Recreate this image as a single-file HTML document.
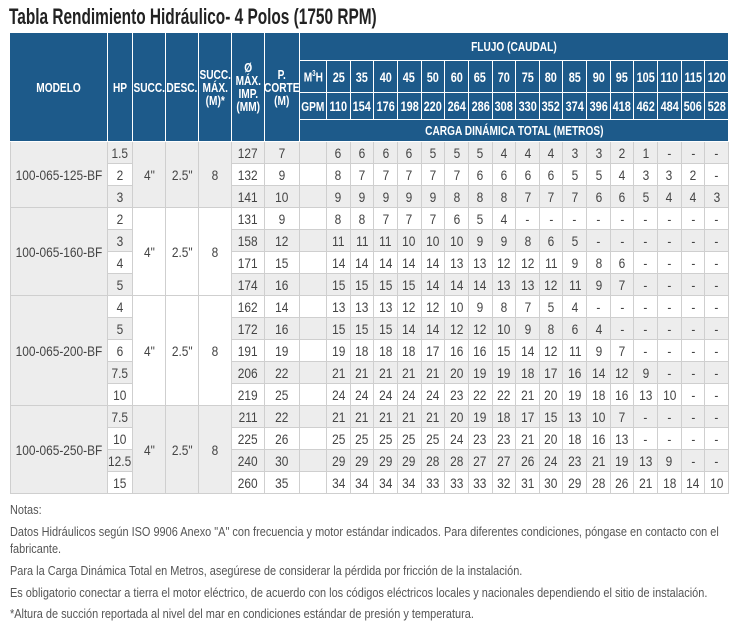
<!DOCTYPE html>
<html><head><meta charset="utf-8">
<style>
body{margin:0;background:#fff;width:738px;height:630px;overflow:hidden;position:relative;font-family:"Liberation Sans",sans-serif}
.c{position:absolute;box-sizing:border-box;display:flex;align-items:center;justify-content:center;text-align:center;white-space:nowrap;overflow:visible}
.h{background:#1d5a8a;color:#fff;font-weight:bold;border-right:1px solid #fff;border-bottom:1px solid #fff}
.h span{display:inline-block;transform:scaleX(0.78)}
.d span{display:inline-block;transform:scaleX(0.85)}
.d{color:#444;font-size:14px;border-right:1px solid #cfcfcf;border-bottom:1px solid #cfcfcf}
.g{background:#ededed}.w{background:#fff}
.note{position:absolute;left:10px;font-size:12.5px;color:#555;white-space:nowrap;transform:scaleX(0.875);transform-origin:0 0}
</style></head><body>
<div style="position:absolute;left:9px;top:4px;font-size:22px;font-weight:bold;color:#222;transform:scaleX(0.7);transform-origin:0 0;white-space:nowrap">Tabla Rendimiento Hidráulico- 4 Polos (1750 RPM)</div>
<div id="tbl"></div>
<div class="note" style="top:503px">Notas:</div>
<div class="note" style="top:525px">Datos Hidráulicos según ISO 9906 Anexo "A" con frecuencia y motor estándar indicados. Para diferentes condiciones, póngase en contacto con el</div>
<div class="note" style="top:542px">fabricante.</div>
<div class="note" style="top:564px">Para la Carga Dinámica Total en Metros, asegúrese de considerar la pérdida por fricción de la instalación.</div>
<div class="note" style="top:586px">Es obligatorio conectar a tierra el motor eléctrico, de acuerdo con los códigos eléctricos locales y nacionales dependiendo el sitio de instalación.</div>
<div class="note" style="top:607px">*Altura de succión reportada al nivel del mar en condiciones estándar de presión y temperatura.</div>
<script>
const m3h=[25,35,40,45,50,60,65,70,75,80,85,90,95,105,110,115,120];
const gpm=[110,154,176,198,220,264,286,308,330,352,374,396,418,462,484,506,528];
const models=["100-065-125-BF","100-065-160-BF","100-065-200-BF","100-065-250-BF"];
const modelRows=[3,4,5,4];
const hp=["1.5","2","3","2","3","4","5","4","5","6","7.5","10","7.5","10","12.5","15"];
const imp=[127,132,141,131,158,171,174,162,172,191,206,219,211,225,240,260];
const corte=[7,9,10,9,12,15,16,14,16,19,22,25,22,26,30,35];
const heads=[
"6 6 6 6 5 5 5 4 4 4 3 3 2 1 - - -",
"8 7 7 7 7 7 6 6 6 6 5 5 4 3 3 2 -",
"9 9 9 9 9 8 8 8 7 7 7 6 6 5 4 4 3",
"8 8 7 7 7 6 5 4 - - - - - - - - -",
"11 11 11 10 10 10 9 9 8 6 5 - - - - - -",
"14 14 14 14 14 13 13 12 12 11 9 8 6 - - - -",
"15 15 15 15 14 14 14 13 13 12 11 9 7 - - - -",
"13 13 13 12 12 10 9 8 7 5 4 - - - - - -",
"15 15 15 14 14 12 12 10 9 8 6 4 - - - - -",
"19 18 18 18 17 16 16 15 14 12 11 9 7 - - - -",
"21 21 21 21 21 20 19 19 18 17 16 14 12 9 - - -",
"24 24 24 24 24 23 22 22 21 20 19 18 16 13 10 - -",
"21 21 21 21 21 20 19 18 17 15 13 10 7 - - - -",
"25 25 25 25 25 24 23 23 21 20 18 16 13 - - - -",
"29 29 29 29 28 28 27 27 26 24 23 21 19 13 9 - -",
"34 34 34 34 33 33 33 32 31 30 29 28 26 21 18 14 10"];
const T=document.getElementById('tbl');
function cell(x,y,w,h,txt,cls,name,fs){
  const el=document.createElement('div');
  el.className='c '+cls;
  
  
  el.style.left=x+'px';el.style.top=y+'px';el.style.width=w+'px';el.style.height=h+'px';
  if(fs)el.style.fontSize=fs+'px';
  el.innerHTML='<span>'+txt+'</span>';
  T.appendChild(el);return el;
}
const colX=[10,108,133,166,199,232,265,300,327];
const fw=(729-327)/17;
const top0=33,hBot=142,rh=22;
const lh=["MODELO","HP","SUCC.","DESC.","SUCC.<br>MÁX.<br>(M)*","Ø<br>MÁX.<br>IMP.<br>(MM)","P.<br>CORTE<br>(M)"];
const lhn=["modelo-header","hp-header","succ-header","desc-header","succ-max-header","imp-diameter-header","cutoff-header"];
for(let i=0;i<7;i++)cell(colX[i],top0,colX[i+1]-colX[i],hBot-top0,lh[i],'h',lhn[i],13).style.lineHeight='13px';
cell(300,top0,429,28,'FLUJO (CAUDAL)','h','flow-header',13);
cell(300,61,27,32,'M<sup style="font-size:8px">3</sup>H','h','m3h-label',13);
cell(300,93,27,27,'GPM','h','gpm-label',13);
cell(300,120,429,22,'CARGA DINÁMICA TOTAL (METROS)','h','head-header',13);
m3h.forEach((v,i)=>cell(327+i*fw,61,fw,32,v,'h','m3h-'+v,14));
gpm.forEach((v,i)=>cell(327+i*fw,93,fw,27,v,'h','gpm-'+v,14));
for(let r=0;r<16;r++){
  const y=hBot+r*rh,bg=r%2?'w':'g';
  cell(108,y,25,rh,hp[r],'d '+bg,'hp-cell');
  cell(232,y,33,rh,imp[r],'d '+bg,'impeller-cell');
  cell(265,y,35,rh,corte[r],'d '+bg,'cutoff-cell');
  cell(300,y,27,rh,'','d '+bg,'blank-cell');
  heads[r].split(' ').forEach((v,i)=>cell(327+i*fw,y,fw,rh,v,'d '+bg,'head-value'));
}
let rs=0;
const succBg=['g','w','w','g'];
models.forEach((m,k)=>{
  const y=hBot+rs*rh,h=modelRows[k]*rh;
  cell(10,y,98,h,m,'d g','model-name').style.borderLeft='1px solid #cfcfcf';
  cell(133,y,33,h,'4"','d '+succBg[k],'suction-size');
  cell(166,y,33,h,'2.5"','d '+succBg[k],'discharge-size');
  cell(199,y,33,h,'8','d '+succBg[k],'max-suction');
  rs+=modelRows[k];
});
</script>
</body></html>
